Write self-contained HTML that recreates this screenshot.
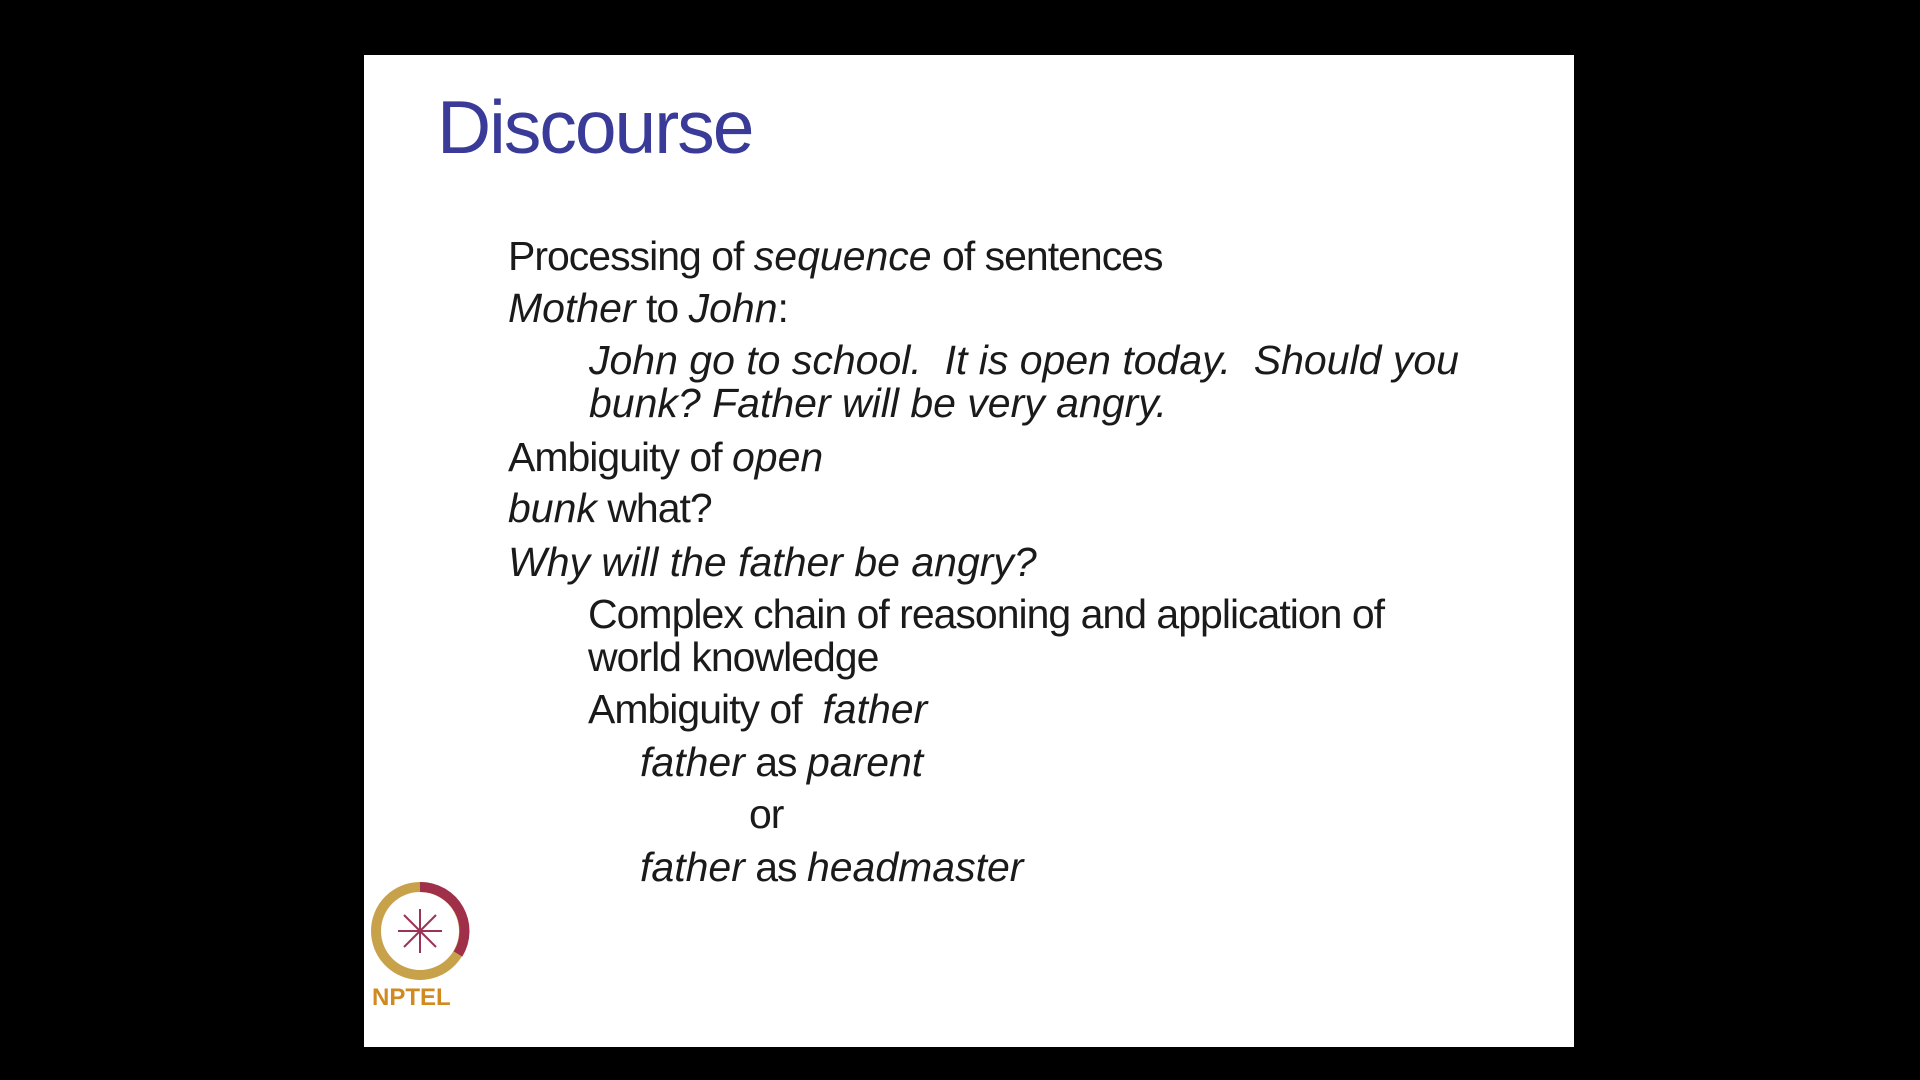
<!DOCTYPE html>
<html><head><meta charset="utf-8"><style>
html,body{margin:0;padding:0;background:#000;width:1920px;height:1080px;overflow:hidden}
#slide{position:absolute;left:364px;top:55px;width:1210px;height:992px;background:#fff}
.t{position:absolute;font-family:"Liberation Sans",sans-serif;font-size:41px;color:#1a1a1a;letter-spacing:-1.0px;white-space:nowrap;line-height:1}
i{font-style:italic;letter-spacing:0px}
#title{position:absolute;left:437px;top:84px;font-family:"Liberation Sans",sans-serif;font-size:75px;color:#3a3a98;letter-spacing:-2px}
</style></head><body>
<div id="slide"></div>
<div id="title">Discourse</div>
<div class="t" style="left:508px;top:236px">Processing of <i>sequence</i> of sentences</div>
<div class="t" style="left:508px;top:288px"><i>Mother</i> to <i>John</i>:</div>
<div class="t" style="left:589px;top:340px"><i>John go to school.&nbsp; It is open today.&nbsp; Should you</i></div>
<div class="t" style="left:589px;top:383px"><i>bunk? Father will be very angry.</i></div>
<div class="t" style="left:508px;top:437px">Ambiguity of <i>open</i></div>
<div class="t" style="left:508px;top:488px"><i>bunk</i> what?</div>
<div class="t" style="left:508px;top:542px"><i>Why will the father be angry?</i></div>
<div class="t" style="left:588px;top:594px">Complex chain of reasoning and application of</div>
<div class="t" style="left:588px;top:637px">world knowledge</div>
<div class="t" style="left:588px;top:689px">Ambiguity of &nbsp;<i>father</i></div>
<div class="t" style="left:640px;top:742px"><i>father</i> as <i>parent</i></div>
<div class="t" style="left:749px;top:794px">or</div>
<div class="t" style="left:640px;top:847px"><i>father</i> as <i>headmaster</i></div>
<svg style="position:absolute;left:368px;top:874px" width="110" height="140">
<circle cx="52" cy="57" r="44" fill="none" stroke="#c8a24a" stroke-width="10"/>
<path d="M52 13 A44 44 0 0 1 90 80" fill="none" stroke="#a0304a" stroke-width="10"/>
<circle cx="52" cy="57" r="30" fill="#fff"/>
<g stroke="#9a3355" stroke-width="2">
<line x1="52" y1="35" x2="52" y2="79"/><line x1="30" y1="57" x2="74" y2="57"/>
<line x1="36" y1="41" x2="68" y2="73"/><line x1="36" y1="73" x2="68" y2="41"/>
</g>
<text x="4" y="131" font-family="Liberation Sans,sans-serif" font-weight="bold" font-size="24" fill="#d08a20">NPTEL</text>
</svg>
</body></html>
